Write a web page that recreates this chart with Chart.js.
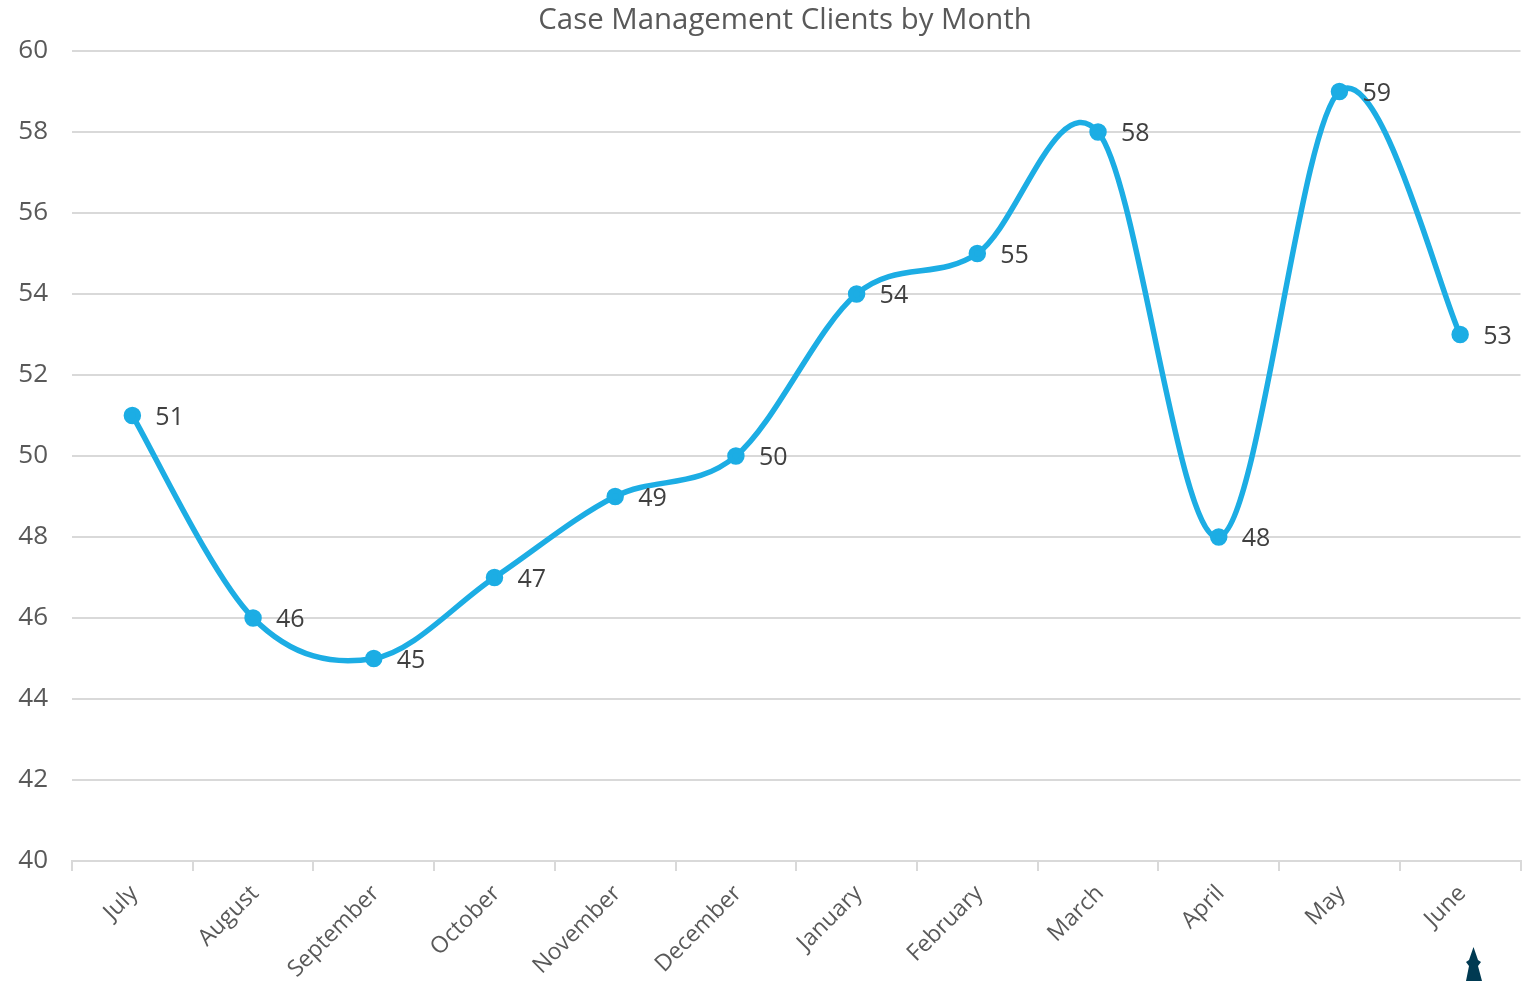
<!DOCTYPE html>
<html>
<head>
<meta charset="utf-8">
<style>
  html, body { margin: 0; padding: 0; background: #fff; }
  #wrap { width: 1532px; height: 981px; position: relative; }
</style>
<script src="https://cdn.jsdelivr.net/npm/chart.js@4"></script>
</head>
<body>
<div id="wrap"><canvas id="clientsChart" width="1532" height="981"></canvas></div>
<script>
const months = ['July', 'August', 'September', 'October', 'November', 'December', 'January', 'February', 'March', 'April', 'May', 'June'];
const clients = [51, 46, 45, 47, 49, 50, 54, 55, 58, 48, 59, 53];
const yTicks = [40, 42, 44, 46, 48, 50, 52, 54, 56, 58, 60];
const chartTitle = 'Case Management Clients by Month';

const fontFamily = "'Open Sans', sans-serif";

// Excel style smoothing: tangent at a point is (next - prev) / 6
const excelSmooth = {
    id: 'excelSmooth',
    beforeDatasetsDraw(chart) {
        const meta = chart.getDatasetMeta(0);
        meta.dataset.updateControlPoints(chart.chartArea);
        const pts = meta.data;
        pts.forEach((pt, i) => {
            const prev = pts[Math.max(i - 1, 0)];
            const next = pts[Math.min(i + 1, pts.length - 1)];
            const dx = (next.x - prev.x) / 6;
            const dy = (next.y - prev.y) / 6;
            pt.cp1x = pt.x - dx;
            pt.cp1y = pt.y - dy;
            pt.cp2x = pt.x + dx;
            pt.cp2y = pt.y + dy;
        });
    }
};

// title sits a little left of the plot centre, point values right of each marker
const annotations = {
    id: 'annotations',
    afterDatasetsDraw(chart) {
        const { ctx } = chart;
        const meta = chart.getDatasetMeta(0);
        ctx.save();
        ctx.font = '25px ' + fontFamily;
        ctx.fillStyle = '#404040';
        ctx.textBaseline = 'middle';
        meta.data.forEach((pt, i) => ctx.fillText(String(clients[i]), pt.x + 23, pt.y + 2));

        ctx.font = '29.4px ' + fontFamily;
        ctx.fillStyle = '#595959';
        ctx.textAlign = 'center';
        ctx.fillText(chartTitle, 785, 21);

        // small dark mark at the bottom edge of the source picture
        ctx.fillStyle = '#003a52';
        ctx.beginPath();
        ctx.moveTo(1473.5, 947);
        ctx.lineTo(1478, 960);
        ctx.lineTo(1481, 962);
        ctx.lineTo(1478, 966);
        ctx.lineTo(1482, 981);
        ctx.lineTo(1466, 981);
        ctx.lineTo(1469, 966);
        ctx.lineTo(1466, 962);
        ctx.lineTo(1469, 960);
        ctx.closePath();
        ctx.fill();
        ctx.restore();
    }
};

new Chart(document.getElementById('clientsChart').getContext('2d'), {
    type: 'line',
    data: {
        labels: months,
        datasets: [{
            data: clients,
            borderColor: '#1cade4',
            backgroundColor: '#1cade4',
            borderWidth: 5.5,
            tension: 0.4,
            pointRadius: 6,
            pointBackgroundColor: '#1cade4',
            pointBorderColor: '#1cade4'
        }]
    },
    plugins: [excelSmooth, annotations],
    options: {
        responsive: false,
        animation: false,
        layout: { padding: { top: 51, right: 11, bottom: 0, left: 0 } },
        plugins: {
            legend: { display: false },
            tooltip: { enabled: false },
            title: { display: false }
        },
        scales: {
            x: {
                offset: true,
                afterFit(axis) { axis.height = 120; },
                grid: { offset: true, drawOnChartArea: false, color: '#d9d9d9', lineWidth: 2, tickLength: 10 },
                border: { color: '#d9d9d9', width: 2 },
                ticks: {
                    color: '#595959',
                    font: { family: fontFamily, size: 23 },
                    padding: 9,
                    labelOffset: 2,
                    maxRotation: 45,
                    minRotation: 45,
                    autoSkip: false
                }
            },
            y: {
                min: 40,
                max: 60,
                afterBuildTicks(axis) { axis.ticks = yTicks.map(v => ({ value: v })); },
                afterFit(axis) { axis.width = 72; },
                grid: { color: '#d9d9d9', lineWidth: 2, drawTicks: false },
                border: { display: false },
                ticks: {
                    color: '#595959',
                    font: { family: fontFamily, size: 26 },
                    padding: 24
                }
            }
        }
    }
});
</script>
</body>
</html>
